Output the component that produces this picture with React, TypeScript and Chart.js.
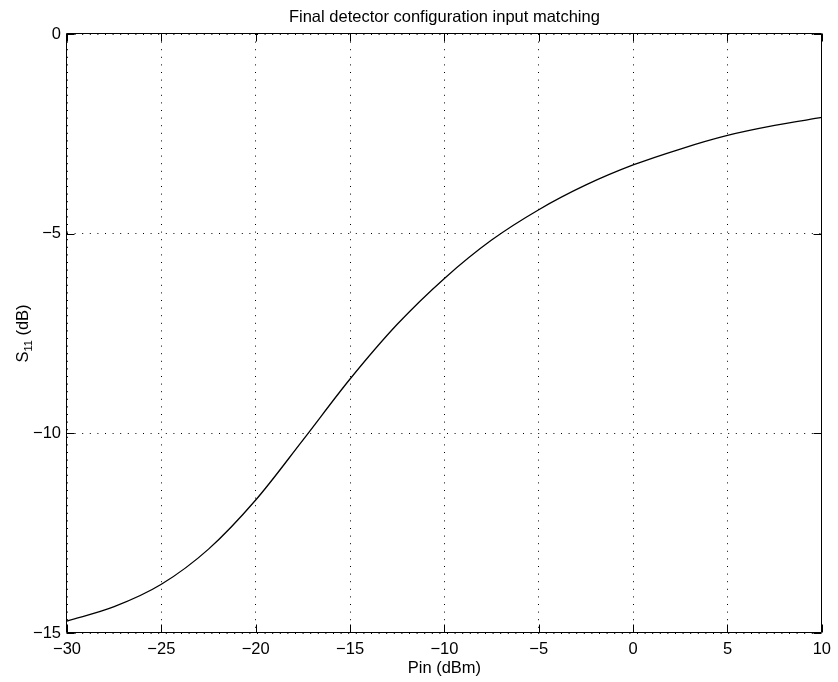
import React, { useEffect, useRef } from 'react';
import { Chart, registerables } from 'chart.js';

Chart.register(...registerables);

// ---- data ----
const pinDbm = [-30, -27.5, -25, -22.5, -20, -17.5, -15, -12.5, -10, -7.5, -5, -2.5, 0, 2.5, 5, 7.5, 10];
const s11Db = [-14.7, -14.34, -13.78, -12.9, -11.67, -10.17, -8.64, -7.27, -6.12, -5.16, -4.4, -3.78, -3.28, -2.88, -2.54, -2.29, -2.09];
const xMin = -30;
const xMax = 10;
const yMin = -15;
const yMax = 0;
const tickStep = 5;
const titleText = 'Final detector configuration input matching';
const xLabelText = 'Pin (dBm)';
const yLabelMain = 'S';
const yLabelSub = '11';
const yLabelUnit = ' (dB)';

const FONT = '"Liberation Sans", Arial, Helvetica, sans-serif';
const minus = (v: number | string) => String(v).replace('-', '\u2212');

const matlabAxes = {
  id: 'matlabAxes',
  afterDraw(chart: any) {
    const { ctx, chartArea: a, scales } = chart;
    const x = scales.x;
    const y = scales.y;
    const L = Math.round(a.left) - 0.5;
    const R = Math.round(a.right) - 0.5;
    const T = Math.round(a.top) - 0.5;
    const B = Math.round(a.bottom) - 0.5;
    const tl = 8;
    ctx.save();
    ctx.setLineDash([]);
    ctx.strokeStyle = '#000';
    ctx.lineWidth = 1;
    ctx.beginPath();
    ctx.rect(L, T, R - L, B - T);
    ctx.stroke();
    ctx.beginPath();
    x.ticks.forEach((t: any) => {
      const px = Math.round(x.getPixelForValue(t.value)) + 0.5;
      ctx.moveTo(px, B);
      ctx.lineTo(px, B - tl);
      ctx.moveTo(px, T);
      ctx.lineTo(px, T + tl);
    });
    y.ticks.forEach((t: any) => {
      const py = Math.round(y.getPixelForValue(t.value)) + 0.5;
      ctx.moveTo(L, py);
      ctx.lineTo(L + tl, py);
      ctx.moveTo(R, py);
      ctx.lineTo(R - tl, py);
    });
    ctx.stroke();

    const big = `16.5px ${FONT}`;
    const small = `11px ${FONT}`;

    // title centred over the plot box
    ctx.fillStyle = '#000';
    ctx.font = big;
    ctx.textAlign = 'center';
    ctx.textBaseline = 'alphabetic';
    ctx.fillText(titleText, (a.left + a.right) / 2, 22);

    // y axis label with subscript
    const cy = (a.top + a.bottom) / 2;
    ctx.translate(28, cy);
    ctx.rotate(-Math.PI / 2);
    ctx.textAlign = 'left';
    ctx.font = big;
    const w1 = ctx.measureText(yLabelMain).width;
    const w3 = ctx.measureText(yLabelUnit).width;
    ctx.font = small;
    const w2 = ctx.measureText(yLabelSub).width;
    let u = -(w1 + w2 + w3) / 2;
    ctx.font = big;
    ctx.fillText(yLabelMain, u, 0);
    u += w1;
    ctx.font = small;
    ctx.fillText(yLabelSub, u, 3.5);
    u += w2;
    ctx.font = big;
    ctx.fillText(yLabelUnit, u, 0);
    ctx.restore();
  },
};

export default function App() {
  const ref = useRef<HTMLCanvasElement | null>(null);
  useEffect(() => {
    if (!ref.current) return;
    Chart.defaults.font.family = FONT;
    Chart.defaults.color = '#000';
    const chart = new Chart(ref.current, {
      type: 'line',
      data: {
        datasets: [
          {
            data: pinDbm.map((p, i) => ({ x: p, y: s11Db[i] })),
            borderColor: '#000',
            borderWidth: 1.3,
            pointRadius: 0,
            fill: false,
            cubicInterpolationMode: 'monotone',
          },
        ],
      },
      options: {
        animation: false,
        responsive: false,
        devicePixelRatio: 1,
        layout: { padding: { top: 34, right: 12, bottom: 0, left: 0 } },
        plugins: {
          legend: { display: false },
          tooltip: { enabled: false },
          title: { display: false },
        },
        scales: {
          x: {
            type: 'linear',
            min: xMin,
            max: xMax,
            afterFit: (s: any) => {
              s.height = 49;
            },
            ticks: {
              stepSize: tickStep,
              padding: 7,
              color: '#000',
              font: { size: 16.5, family: FONT },
              maxRotation: 0,
              callback: (v: any) => minus(v),
            },
            grid: { color: '#000', lineWidth: 1, drawTicks: false },
            border: { display: false, dash: [1, 6.6] },
            title: {
              display: true,
              text: xLabelText,
              color: '#000',
              font: { size: 16.5, family: FONT },
              padding: { top: 0, bottom: 3.5 },
            },
          },
          y: {
            type: 'linear',
            min: yMin,
            max: yMax,
            afterFit: (s: any) => {
              s.width = 67;
            },
            ticks: {
              stepSize: tickStep,
              padding: 6,
              color: '#000',
              font: { size: 16.5, family: FONT },
              callback: (v: any) => minus(v),
            },
            grid: { color: '#000', lineWidth: 1, drawTicks: false },
            border: { display: false, dash: [1, 6.6] },
          },
        },
      },
      plugins: [matlabAxes],
    } as any);
    return () => chart.destroy();
  }, []);
  return (
    <div style={{ position: 'absolute', left: 0, top: 0, width: 838, height: 682, background: '#fff' }}>
      <canvas ref={ref} width={838} height={682} style={{ display: 'block' }} />
    </div>
  );
}
